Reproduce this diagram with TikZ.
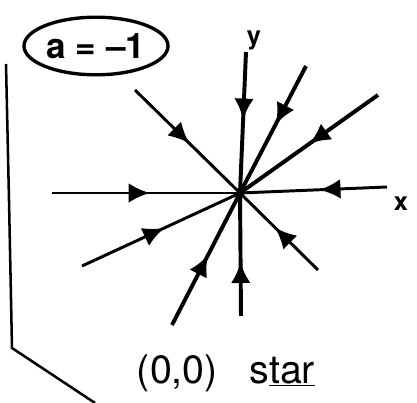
\documentclass[tikz,border=0pt]{standalone}
\usepackage{fontspec}
\setmainfont{TeX Gyre Heros}
\usetikzlibrary{arrows.meta,decorations.markings}

\begin{document}
\begin{tikzpicture}[x=0.025cm, y=-0.025cm, line width=2.8pt,
  inflow/.style={postaction={decorate}, decoration={markings,
    mark=at position #1 with {\arrow{Latex[length=15pt,width=14pt]}}}},
  inflow/.default=0.5,
  every node/.style={font=\fontsize{28}{32}\selectfont}]
\useasboundingbox (0,0) rectangle (417,403);

% origin and ends of the trajectories
\coordinate (o) at (240,193);
\coordinate (ytop) at (246,52);
\coordinate (ybot) at (241,316);
\coordinate (xleft) at (52,193);
\coordinate (xright) at (387,187);
\coordinate (ul) at (135,90);
\coordinate (lr) at (318,270);
\coordinate (urs) at (306,66);
\coordinate (urf) at (378,95);
\coordinate (llf) at (82,266);
\coordinate (lls) at (172,325);

\draw[inflow=0.48] (ytop) -- (o);
\draw[inflow=0.44] (ybot) -- (o);
\draw[inflow=0.52, line width=2.1pt] (xleft) -- (o);
\draw[inflow=0.46, line width=2.1pt] (xright) -- (o);
\draw[inflow=0.52, line width=2.1pt] (ul) -- (o);
\draw[inflow=0.55, line width=2.1pt] (lr) -- (o);
\draw[inflow=0.46] (urs) -- (o);
\draw[inflow=0.5] (urf) -- (o);
\draw[inflow=0.52, line width=2.1pt] (llf) -- (o);
\draw[inflow=0.53] (lls) -- (o);

\node (ylab) at (254,40) {\fontsize{18}{20}\selectfont\bfseries y};
\node (xlab) at (401,204) {\fontsize{18}{20}\selectfont\bfseries x};

% case label
\node (case) at (96,46) {\fontsize{25}{30}\selectfont\bfseries a = –1};
\draw[line width=2.4pt] (case.center) ellipse [x radius=1.8cm, y radius=0.72cm];

% margin bracket
\draw[line width=1.8pt] (6,64) -- (9,200) -- (12,348) -- (95,403);

\node (result) at (226,373) {(0,0)\hspace{0.8em}s\underline{tar}};
\end{tikzpicture}
\end{document}
